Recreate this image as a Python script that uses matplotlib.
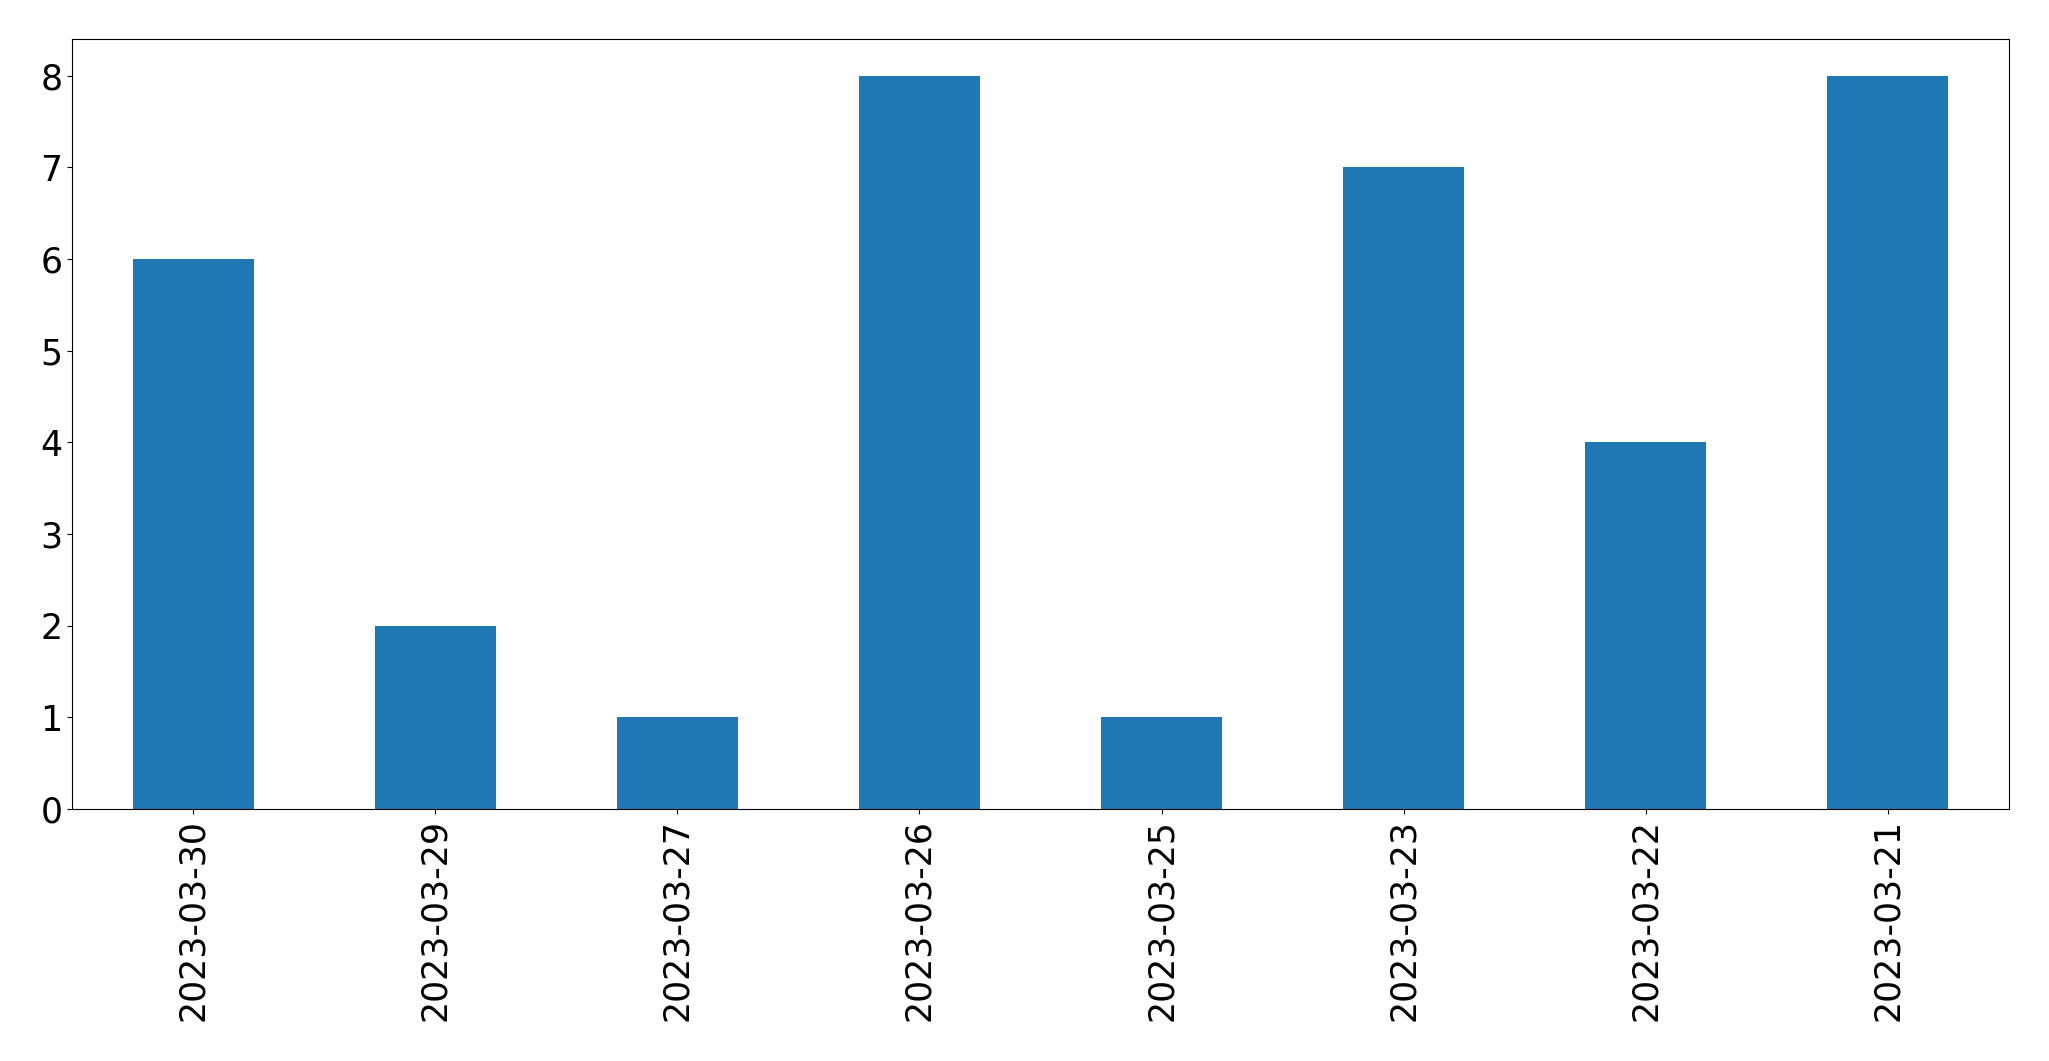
import matplotlib
matplotlib.use("Agg")
import matplotlib.pyplot as plt

dates = ["2023-03-30", "2023-03-29", "2023-03-27", "2023-03-26",
         "2023-03-25", "2023-03-23", "2023-03-22", "2023-03-21"]
counts = [6, 2, 1, 8, 1, 7, 4, 8]

fig = plt.figure(figsize=(20.49, 10.61), dpi=100)
ax = fig.add_axes([72/2049, 1 - 809/1061, (2009-72)/2049, (809-39)/1061])
x = list(range(len(dates)))
ax.bar(x, counts, width=0.5, color="#1f77b4")
ax.set_xlim(-0.5, len(dates) - 0.5)
ax.set_ylim(0, max(counts) * 1.05)
ax.set_xticks(x)
ax.set_xticklabels(dates, rotation=90, fontsize=25)
ax.tick_params(axis="y", labelsize=25)
fig.savefig("out.png", dpi=100)
